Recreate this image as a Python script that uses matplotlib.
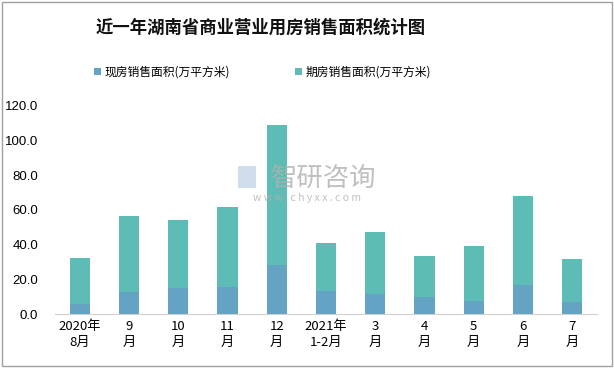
import matplotlib.pyplot as plt
import numpy as np
from matplotlib.patches import Rectangle

plt.rcParams['font.family'] = ['Noto Sans CJK SC', 'DejaVu Sans']

months = ["2020年\n8月", "9\n月", "10\n月", "11\n月", "12\n月", "2021年\n1-2月",
          "3\n月", "4\n月", "5\n月", "6\n月", "7\n月"]
# 现房 / 期房 (万平方米)
spot = [5.8, 12.7, 15.0, 15.6, 28.3, 13.3, 11.5, 9.8, 7.5, 16.7, 6.9]
total = [32.3, 56.5, 54.2, 61.7, 109.1, 41.0, 47.3, 33.5, 39.2, 68.1, 31.7]
future = [t - s for t, s in zip(total, spot)]

blue = "#64A3C3"
teal = "#5DBCB5"

fig = plt.figure(figsize=(6.14, 3.68), dpi=100)
ax = fig.add_axes([0.0896, 0.1467, 0.8824, 0.5653])

x = np.arange(len(months))
ax.bar(x, spot, width=0.41, color=blue, label="现房销售面积(万平方米)")
ax.bar(x, future, width=0.41, bottom=spot, color=teal, label="期房销售面积(万平方米)")

ax.set_xlim(-0.5, len(months) - 0.5)
ax.set_ylim(0, 120)
ax.set_yticks(np.arange(0, 121, 20))
ax.set_yticklabels([f"{v:.1f}" for v in np.arange(0, 121, 20)], fontsize=9.5,
                   family=['Liberation Sans', 'DejaVu Sans'])
ax.set_xticks(x)
ax.set_xticklabels(months, fontsize=9.5, linespacing=1.35)
ax.tick_params(axis='both', length=0, pad=4)
ax.tick_params(axis='y', pad=12)
for s in ['top', 'right', 'left']:
    ax.spines[s].set_visible(False)
ax.spines['bottom'].set_color("#D0D0D0")

fig.text(0.424, 0.924, "近一年湖南省商业营业用房销售面积统计图", ha='center', va='center',
         fontsize=12.5, fontweight='bold', color="#111111")

fig.legend(loc='center', bbox_to_anchor=(0.428, 0.804), ncol=2, frameon=False,
           fontsize=8.5, handlelength=0.6, handleheight=0.6, columnspacing=5.5,
           handletextpad=0.3)

# watermark
fig.text(0.528, 0.516, "智研咨询", ha='center', va='center', fontsize=19,
         color="#B0B0B0", alpha=0.8)
fig.text(0.5, 0.462, "w w w . c h y x x . c o m", ha='center', va='center',
         fontsize=7.5, color="#B0B0B0", alpha=0.8)
fig.patches.append(Rectangle((0.388, 0.489), 0.029, 0.06, transform=fig.transFigure,
                             facecolor="#C5D5E8", edgecolor='none', alpha=0.8))

fig.patches.append(Rectangle((0.004, 0.006), 0.992, 0.988, transform=fig.transFigure,
                             fill=False, edgecolor="#A0A0A0", linewidth=1))

fig.savefig("out.png", dpi=100)
